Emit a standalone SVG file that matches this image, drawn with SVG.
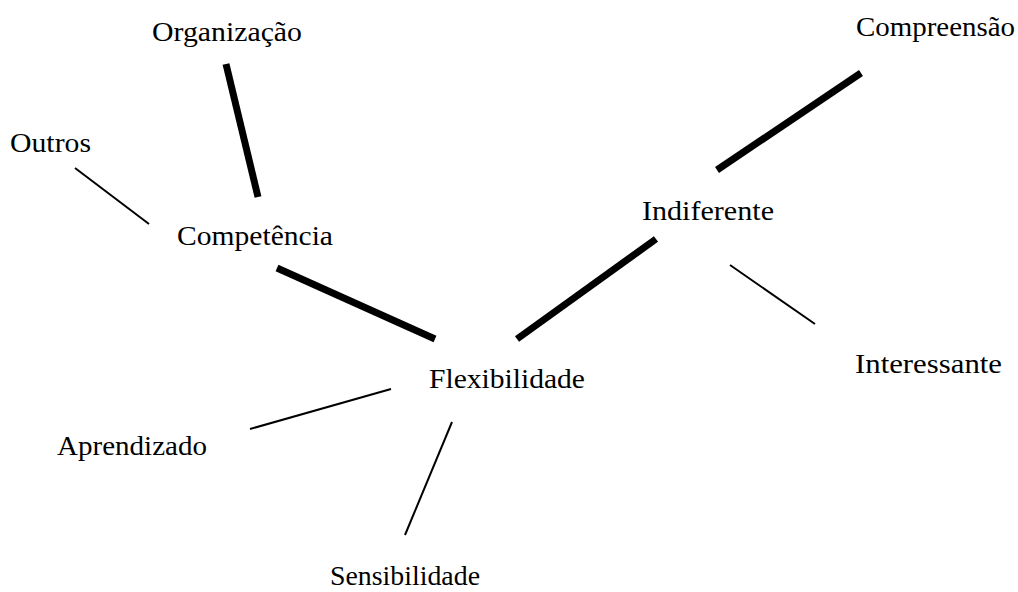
<svg xmlns="http://www.w3.org/2000/svg" width="1018" height="592" viewBox="0 0 1018 592">
<style>
.lbl{font-family:"Liberation Serif","DejaVu Serif",serif;font-size:27px;fill:#000}
.thick{stroke:#000;stroke-width:7;fill:none}
.thin{stroke:#000;stroke-width:2;fill:none}
</style>
<rect width="1018" height="592" fill="#fff"/>
<g id="connectors">
<line class="thick" x1="226" y1="64" x2="258" y2="197"/>
<line class="thin" x1="75" y1="168" x2="149" y2="224"/>
<line class="thick" x1="277" y1="268" x2="435" y2="339"/>
<line class="thick" x1="517" y1="339" x2="656" y2="239"/>
<line class="thick" x1="717" y1="170" x2="861" y2="73"/>
<line class="thin" x1="730" y1="265" x2="815" y2="324"/>
<line class="thin" x1="250" y1="429" x2="391" y2="389"/>
<line class="thin" x1="452" y1="422" x2="405" y2="535"/>
</g>
<g id="n-organizacao"><text class="lbl" x="152" y="41" textLength="150" lengthAdjust="spacingAndGlyphs">Organização</text></g>
<g id="n-outros"><text class="lbl" x="10" y="152" textLength="81" lengthAdjust="spacingAndGlyphs">Outros</text></g>
<g id="n-competencia"><text class="lbl" x="177" y="245" textLength="156" lengthAdjust="spacingAndGlyphs">Competência</text></g>
<g id="n-indiferente"><text class="lbl" x="642" y="220" textLength="132" lengthAdjust="spacingAndGlyphs">Indiferente</text></g>
<g id="n-compreensao"><text class="lbl" x="856" y="36" textLength="159" lengthAdjust="spacingAndGlyphs">Compreensão</text></g>
<g id="n-interessante"><text class="lbl" x="855" y="373" textLength="147" lengthAdjust="spacingAndGlyphs">Interessante</text></g>
<g id="n-flexibilidade"><text class="lbl" x="429" y="388" textLength="156" lengthAdjust="spacingAndGlyphs">Flexibilidade</text></g>
<g id="n-aprendizado"><text class="lbl" x="57" y="455" textLength="150" lengthAdjust="spacingAndGlyphs">Aprendizado</text></g>
<g id="n-sensibilidade"><text class="lbl" x="330" y="585" textLength="150" lengthAdjust="spacingAndGlyphs">Sensibilidade</text></g>
</svg>
